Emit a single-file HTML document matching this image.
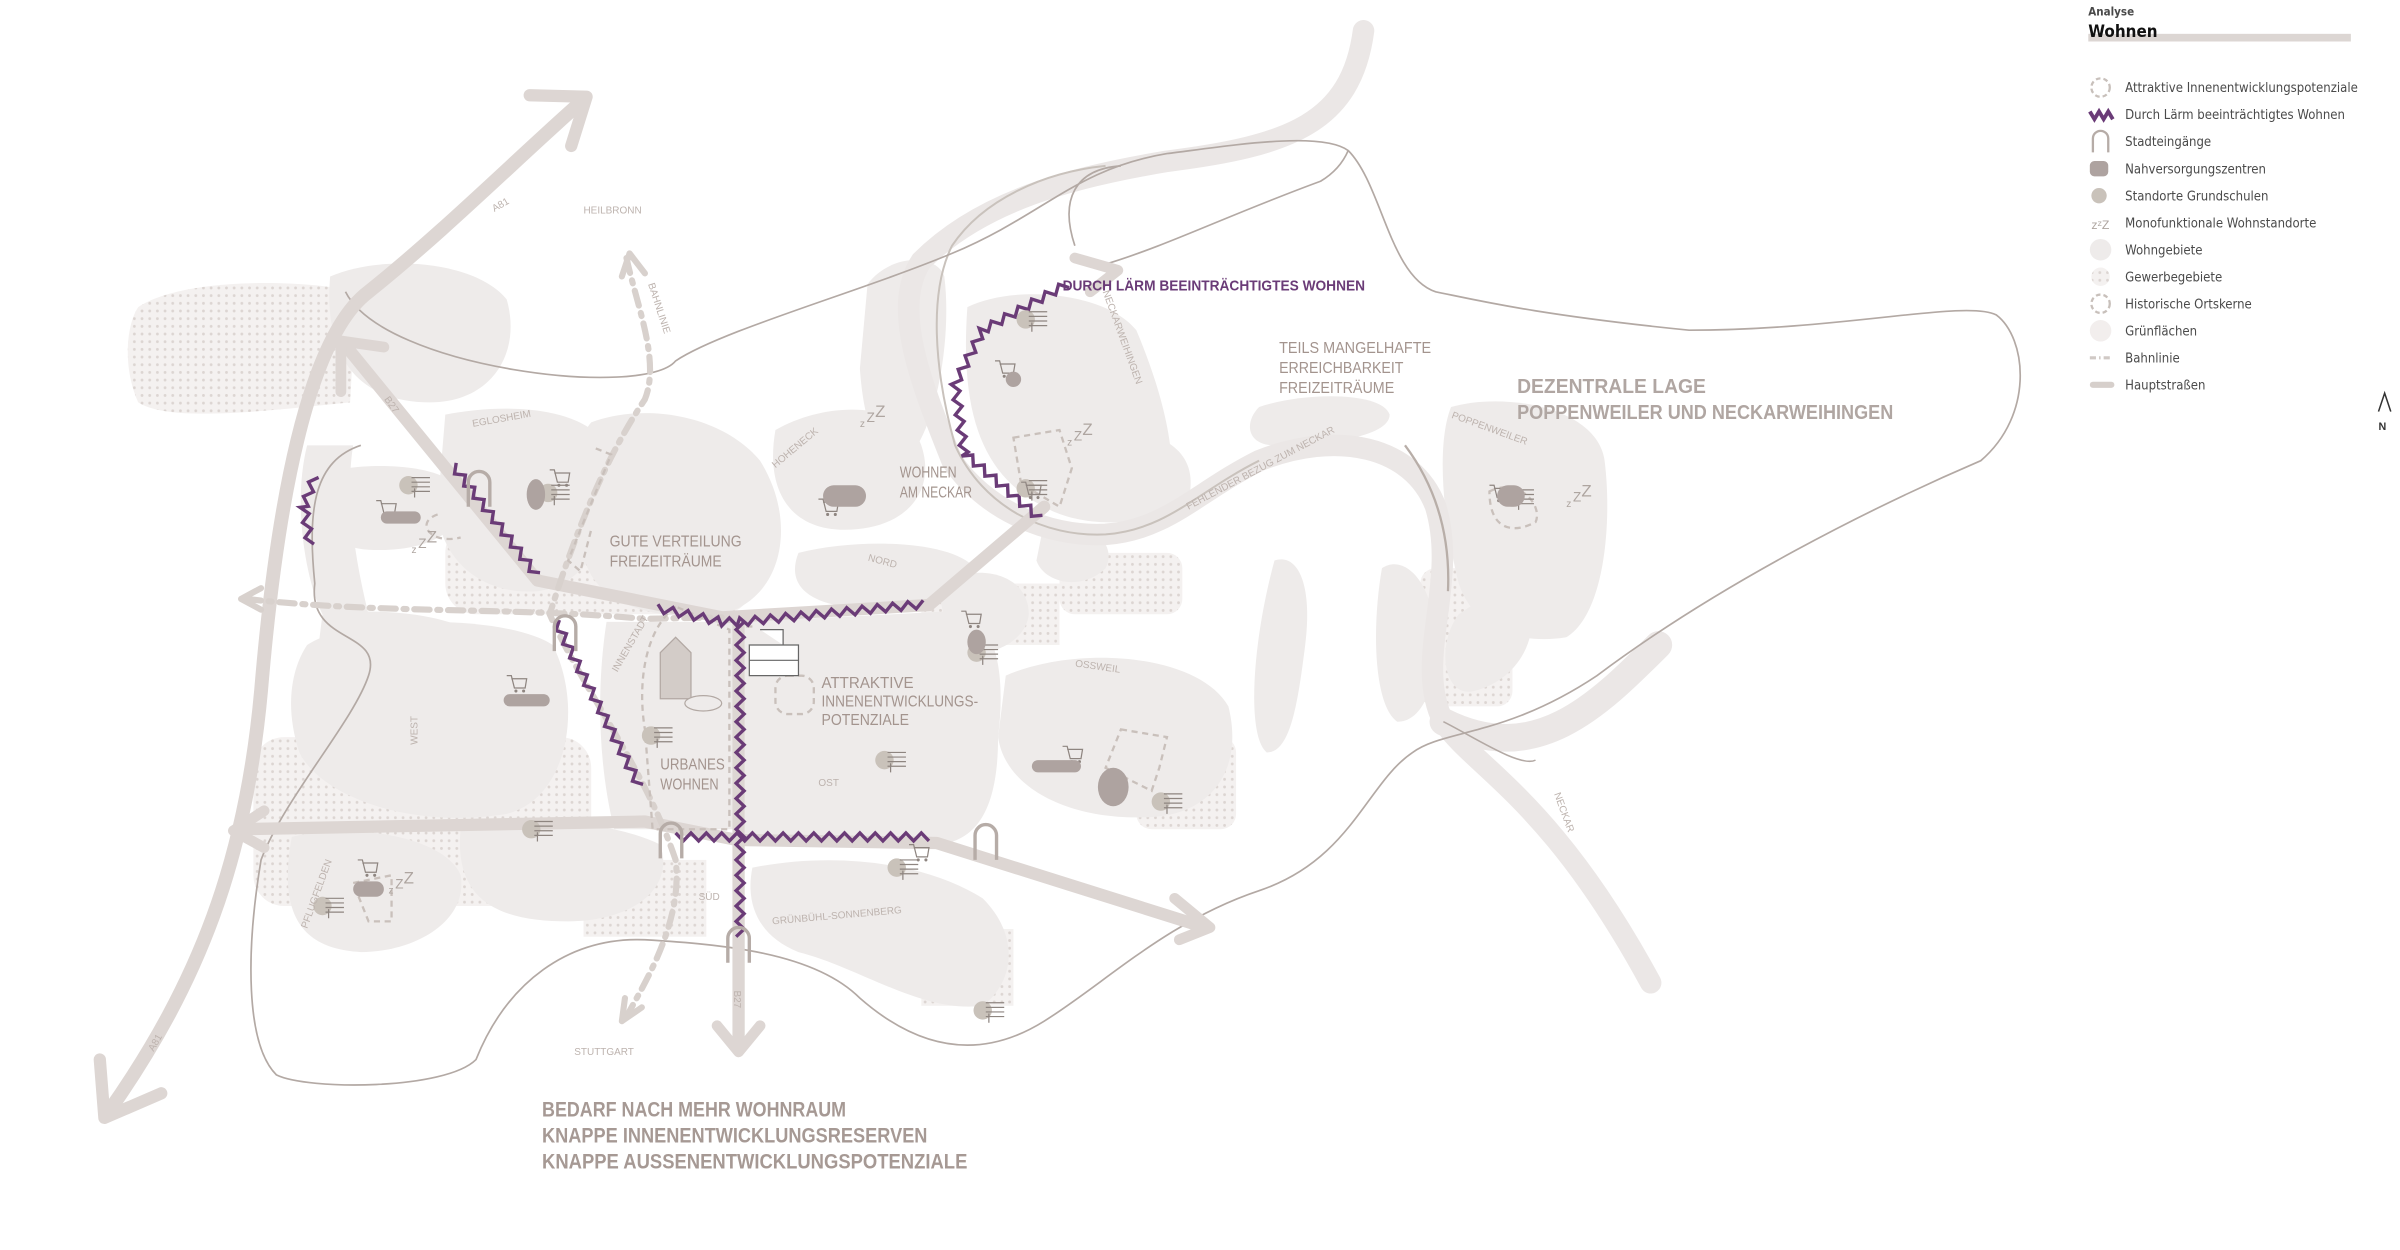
<!DOCTYPE html>
<html><head><meta charset="utf-8"><style>
html,body{margin:0;padding:0;background:#fff;}
svg{display:block}
text{font-family:"Liberation Sans",sans-serif;}
.lb{fill:#a3948e;font-size:10px}
.sm{fill:#bdb3ae;font-size:6.5px}
.lg{fill:#4a4a4a;font-size:8.5px;font-family:"DejaVu Sans Condensed","Liberation Sans",sans-serif}
</style></head><body>
<svg id="s" width="2400" height="1250" viewBox="0 0 1563 814" xmlns="http://www.w3.org/2000/svg">
<defs>
<pattern id="dots" width="5" height="5" patternUnits="userSpaceOnUse"><rect width="5" height="5" fill="#f4f1f0"/><circle cx="2.5" cy="2.5" r="0.9" fill="#dcd5d2"/></pattern>
</defs>
<g fill="url(#dots)">
<path d="M90,200 C120,180 200,182 232,190 L228,262 C170,268 110,275 90,262 C80,240 82,212 90,200Z"/>
<rect x="165" y="480" width="220" height="110" rx="20"/>
<rect x="290" y="340" width="200" height="60" rx="20"/>
<rect x="600" y="380" width="90" height="40"/>
<rect x="690" y="360" width="80" height="40" rx="10"/>
<rect x="740" y="480" width="65" height="60" rx="10"/>
<rect x="925" y="370" width="60" height="90" rx="10"/>
<rect x="600" y="605" width="60" height="50"/>
<rect x="380" y="560" width="80" height="50"/>
<rect x="445" y="470" width="30" height="70"/>
</g>
<g fill="#eeebea">
<path d="M215,180 C250,165 310,170 330,195 C340,230 320,262 280,262 C240,262 210,240 215,180Z"/>
<path d="M205,310 C230,300 290,300 300,320 C305,345 280,360 240,358 C210,356 200,335 205,310Z"/>
<path d="M290,270 C330,262 380,265 395,290 C405,330 390,380 350,385 C310,388 285,360 285,330Z"/>
<path d="M385,275 C420,262 470,270 495,300 C520,340 510,390 470,400 C430,405 385,395 380,360 C375,320 372,290 385,275Z"/>
<path d="M505,280 C540,260 590,262 600,290 C610,320 590,345 550,345 C515,345 498,320 505,280Z"/>
<path d="M565,185 C580,165 610,165 615,180 C620,220 610,280 590,300 C570,305 562,270 560,240Z"/>
<path d="M630,200 C660,185 720,190 740,215 C755,250 770,300 760,330 C740,345 700,342 680,330 C640,310 625,270 630,200Z"/>
<path d="M700,280 C740,275 780,285 775,320 C770,345 720,345 700,330Z"/>
<path d="M520,360 C560,350 620,352 635,370 C640,392 600,398 560,396 C525,394 512,380 520,360Z"/>
<path d="M200,420 C230,400 330,400 360,420 C380,460 370,520 330,530 C270,540 210,520 195,490 C185,460 190,435 200,420Z"/>
<path d="M395,405 L480,405 L482,540 L400,540 C390,500 388,450 395,405Z"/>
<path d="M485,405 L620,398 C650,400 655,440 650,480 C650,520 640,548 610,550 L485,550Z"/>
<path d="M610,380 C640,365 670,375 670,400 C668,420 640,430 620,425Z"/>
<path d="M655,440 C700,420 780,425 800,460 C810,500 790,530 750,532 C700,535 655,515 650,480Z"/>
<path d="M190,545 C230,535 290,545 300,570 C305,600 270,620 235,620 C200,618 180,600 190,545Z"/>
<path d="M300,540 C340,530 400,535 430,550 C440,580 410,600 370,600 C330,600 295,590 300,540Z"/>
<path d="M490,565 C540,555 600,560 640,585 C665,610 660,640 640,655 C600,660 560,630 520,620 C495,610 485,590 490,565Z"/>
<path d="M945,265 C980,255 1040,265 1045,300 C1050,340 1045,400 1020,415 C990,420 960,410 950,380 C940,340 935,290 945,265Z"/>
<path d="M200,290 C190,330 200,380 210,400 L240,400 C230,360 225,320 230,290Z"/>
<path d="M900,370 C915,360 935,380 935,420 C935,450 925,470 910,470 C895,460 893,410 900,370Z"/>
<path d="M830,365 C845,360 855,380 850,420 C845,460 840,490 825,490 C812,480 815,420 830,365Z"/>
<path d="M820,265 C850,255 900,255 905,270 C905,285 860,290 830,290 C812,290 810,275 820,265Z"/>
<path d="M680,340 C700,335 730,350 720,370 C705,385 680,380 675,365Z"/>
<path d="M980,380 C1010,390 1000,440 960,450 C940,455 935,420 950,400Z"/>
<path d="M210,400 C250,395 300,400 320,420 C290,430 240,440 205,440Z"/>
</g>
<g fill="none" stroke="#ebe7e6" stroke-linecap="round">
<path d="M888,20 C880,80 840,95 760,105 C700,115 640,130 600,170 C580,200 600,250 620,300 C640,330 680,350 720,348 C760,345 780,320 820,300 C870,280 920,290 935,330 C950,380 920,430 940,470 C960,500 1010,520 1075,640" stroke-width="14"/>
<path d="M940,470 C1000,500 1040,460 1080,420" stroke-width="18"/>
</g>
<g fill="none" stroke="#c9c2bc" stroke-width="1.3">
<path d="M720,108 C680,112 640,130 620,160 C605,190 608,240 622,290 C640,330 680,350 720,348 C760,345 780,320 820,300"/>
</g>
<path d="M915,290 C930,310 945,340 943,385" fill="none" stroke="#b8aea8" stroke-width="1.5"/>
<path d="M225,190 C250,240 420,260 440,235 C470,215 560,190 620,165 C680,140 700,110 760,100 C800,95 860,85 878,98 C900,120 905,180 935,190 C960,195 1000,205 1100,215 C1200,215 1280,195 1300,205 C1320,220 1325,270 1290,300 C1220,330 1120,380 1040,440 C980,480 940,475 920,490 C890,510 880,560 820,580 C760,600 720,640 680,665 C640,690 600,685 560,650 C530,620 470,615 420,612 C370,610 330,640 310,690 C290,710 200,710 180,700 C160,680 160,620 170,560 C185,520 230,470 240,440 C250,410 200,420 205,380 C200,330 205,300 235,290" fill="none" stroke="#b3a9a4" stroke-width="1.1"/>
<path d="M700,160 C690,130 700,110 730,108" fill="none" stroke="#b3a9a4" stroke-width="1.1"/>
<path d="M720,172 C760,160 800,140 860,118 C870,112 875,105 878,98" fill="none" stroke="#b3a9a4" stroke-width="1.1"/>
<path d="M940,470 C960,480 990,500 1000,495" fill="none" stroke="#b3a9a4" stroke-width="1"/>
<g fill="none" stroke="#ddd6d3" stroke-linecap="round" stroke-linejoin="round">
<path d="M70,725 C130,640 160,560 170,450 C180,330 200,220 240,190 C290,150 340,100 380,65" stroke-width="9"/>
<path d="M345,62 L382,63 L372,95" stroke-width="8"/>
<path d="M65,690 L68,728 L105,712" stroke-width="8"/>
<path d="M225,225 L350,378 L470,402 L605,394 L680,330" stroke-width="8"/>
<path d="M222,255 L222,222 L250,226" stroke-width="7"/>
<path d="M155,540 L420,535 L480,547 L610,549 L785,604" stroke-width="8"/>
<path d="M172,528 L152,541 L172,552" stroke-width="7"/>
<path d="M765,585 L788,604 L768,612" stroke-width="7"/>
<path d="M481,405 L481,683" stroke-width="8"/>
<path d="M467,668 L481,685 L495,668" stroke-width="7"/>
<path d="M700,168 L728,176 L710,190" stroke-width="7"/>
</g>
<g fill="none" stroke="#d8d1cd" stroke-linecap="round" stroke-width="4" stroke-dasharray="10 5 2 5">
<path d="M408,168 C415,200 430,235 420,260 C400,290 380,330 358,400 C380,450 420,500 440,560 C445,600 420,640 408,662"/>
<path d="M160,390 C250,400 330,395 420,403 L470,402"/>
<path d="M410,165 L405,180 M410,165 L420,178" stroke-dasharray="0"/>
<path d="M157,390 L170,383 M157,390 L170,397" stroke-dasharray="0"/>
<path d="M405,665 L407,650 M405,665 L418,656" stroke-dasharray="0"/>
</g>
<g fill="none" stroke="#c9c0bb" stroke-width="1.5" stroke-dasharray="4 3">
<path d="M388,292 L398,296 L380,340 L370,365 L378,372 L385,345"/>
<path d="M490,408 L480,408 M440,395 C420,410 415,445 420,475 L425,540 L475,540 L475,410 Z"/>
<rect x="505" y="440" width="25" height="25" rx="8"/>
<path d="M660,285 L690,280 L698,305 L690,330 L665,315 Z"/>
<path d="M730,475 L760,480 L755,500 L750,515 L720,500 Z"/>
<path d="M970,320 C990,310 1005,330 1000,340 C985,348 970,345 970,320Z"/>
<path d="M285,335 C270,340 280,355 300,350"/>
<path d="M230,575 L255,570 L255,600 L240,600 Z"/>
</g>
<g id="zz" fill="none" stroke="#6a3b77" stroke-width="2.2" stroke-linejoin="miter"></g>
<g fill="none" stroke="#b6aca7" stroke-width="5" stroke-linecap="butt"><g id="gates"></g></g>
<g id="icons"></g>
<g class="lb">
<text x="397" y="356" textLength="86" lengthAdjust="spacingAndGlyphs">GUTE VERTEILUNG</text><text x="397" y="369" textLength="73" lengthAdjust="spacingAndGlyphs">FREIZEITRÄUME</text>
<text x="586" y="311" textLength="37" lengthAdjust="spacingAndGlyphs">WOHNEN</text><text x="586" y="324" textLength="47" lengthAdjust="spacingAndGlyphs">AM NECKAR</text>
<text x="535" y="448" textLength="60" lengthAdjust="spacingAndGlyphs">ATTRAKTIVE</text><text x="535" y="460" textLength="102" lengthAdjust="spacingAndGlyphs">INNENENTWICKLUNGS-</text><text x="535" y="472" textLength="57" lengthAdjust="spacingAndGlyphs">POTENZIALE</text>
<text x="430" y="501" textLength="42" lengthAdjust="spacingAndGlyphs">URBANES</text><text x="430" y="514" textLength="38" lengthAdjust="spacingAndGlyphs">WOHNEN</text>
<text x="833" y="230" textLength="99" lengthAdjust="spacingAndGlyphs">TEILS MANGELHAFTE</text><text x="833" y="243" textLength="81" lengthAdjust="spacingAndGlyphs">ERREICHBARKEIT</text><text x="833" y="256" textLength="75" lengthAdjust="spacingAndGlyphs">FREIZEITRÄUME</text>
<text x="692" y="189" style="fill:#6a3b77;font-size:9.5px;font-weight:bold" textLength="197" lengthAdjust="spacingAndGlyphs">DURCH LÄRM BEEINTRÄCHTIGTES WOHNEN</text>
<text x="988" y="256" style="font-size:13px;fill:#b0a6a2;font-weight:bold" textLength="123" lengthAdjust="spacingAndGlyphs">DEZENTRALE LAGE</text>
<text x="988" y="273" style="font-size:13px;fill:#b0a6a2;font-weight:bold" textLength="245" lengthAdjust="spacingAndGlyphs">POPPENWEILER UND NECKARWEIHINGEN</text>
<text x="353" y="727" style="font-size:14px;fill:#a69994;font-weight:bold" textLength="198" lengthAdjust="spacingAndGlyphs">BEDARF NACH MEHR WOHNRAUM</text>
<text x="353" y="744" style="font-size:14px;fill:#a69994;font-weight:bold" textLength="251" lengthAdjust="spacingAndGlyphs">KNAPPE INNENENTWICKLUNGSRESERVEN</text>
<text x="353" y="761" style="font-size:14px;fill:#a69994;font-weight:bold" textLength="277" lengthAdjust="spacingAndGlyphs">KNAPPE AUSSENENTWICKLUNGSPOTENZIALE</text>
</g>
<g class="sm">
<text x="380" y="139">HEILBRONN</text><text x="374" y="687">STUTTGART</text>
<text x="308" y="278" transform="rotate(-10 308 278)">EGLOSHEIM</text>
<text x="505" y="305" transform="rotate(-40 505 305)">HOHENECK</text>
<text x="565" y="365" transform="rotate(15 565 365)">NORD</text>
<text x="700" y="434" transform="rotate(8 700 434)">OSSWEIL</text>
<text x="533" y="512">OST</text><text x="455" y="586">SÜD</text>
<text x="503" y="602" transform="rotate(-5 503 602)">GRÜNBÜHL-SONNENBERG</text>
<text x="272" y="485" transform="rotate(-90 272 485)">WEST</text>
<text x="200" y="605" transform="rotate(-70 200 605)">PFLUGFELDEN</text>
<text x="402" y="438" transform="rotate(-60 402 438)">INNENSTADT</text>
<text x="774" y="332" transform="rotate(-28 774 332)">FEHLENDER BEZUG ZUM NECKAR</text>
<text x="718" y="190" transform="rotate(70 718 190)">NECKARWEIHINGEN</text>
<text x="945" y="272" transform="rotate(20 945 272)">POPPENWEILER</text>
<text x="1012" y="517" transform="rotate(70 1012 517)">NECKAR</text>
<text x="322" y="138" transform="rotate(-30 322 138)">A81</text>
<text x="100" y="685" transform="rotate(-60 100 685)">A81</text>
<text x="250" y="260" transform="rotate(55 250 260)">B27</text>
<text x="478" y="645" transform="rotate(90 478 645)">B27</text>
<text x="422" y="185" transform="rotate(72 422 185)">BAHNLINIE</text>
</g>
<rect x="1360" y="22" width="171" height="5" fill="#dcd6d3"/>
<text x="1360" y="10" class="lg" style="font-size:7.5px;font-weight:bold">Analyse</text>
<text x="1360" y="24" class="lg" style="font-size:11px;font-weight:bold;fill:#111">Wohnen</text>
<g id="leg"></g>
<path d="M1549,268 L1553,256 L1557,268" fill="none" stroke="#333" stroke-width="1"/>
<text x="1549" y="280" style="font-size:7px;font-weight:bold;fill:#333">N</text>
</svg>
<script>
var NS="http://www.w3.org/2000/svg";
function el(p,t,a){var e=document.createElementNS(NS,t);for(var k in a)e.setAttribute(k,a[k]);p.appendChild(e);return e;}
function zig(pts,amp,step){var d="",first=true,k=0;for(var i=0;i<pts.length-1;i++){var a=pts[i],b=pts[i+1],dx=b[0]-a[0],dy=b[1]-a[1],L=Math.hypot(dx,dy),ux=dx/L,uy=dy/L,nx=-uy,ny=ux;for(var s=0;s<L;s+=step){var sg=(k++%2?1:-1)*amp;var x=a[0]+ux*s+nx*sg,y=a[1]+uy*s+ny*sg;d+=(first?"M":"L")+x.toFixed(1)+","+y.toFixed(1);first=false;}}return d;}
var zz=document.getElementById("zz");
var lines=[[[205,310],[198,330],[202,355]],[[295,303],[350,375]],[[362,405],[418,515]],[[428,396],[470,405],[482,405],[606,393]],[[482,405],[482,612]],[[440,545],[610,545]],[[695,185],[640,215],[622,250],[628,295],[680,340]]];
lines.forEach(function(l){el(zz,"path",{d:zig(l,2.6,5)});});
var g=document.getElementById("gates");
[[312,318],[368,412],[437,547],[642,548],[481,615]].forEach(function(p){el(g,"path",{d:"M"+(p[0]-7)+","+(p[1]+12)+" L"+(p[0]-7)+","+(p[1]-4)+" A7,7 0 0 1 "+(p[0]+7)+","+(p[1]-4)+" L"+(p[0]+7)+","+(p[1]+12),stroke:"#b6aca7","stroke-width":2.2});});
var ic=document.getElementById("icons");
function school(x,y){el(ic,"circle",{cx:x,cy:y,r:6,fill:"#c9c2ba"});var p="";for(var i=0;i<4;i++){p+="M"+(x+2)+","+(y-5+i*3)+" L"+(x+14)+","+(y-5+i*3);}p+="M"+(x+4)+","+(y+2)+" L"+(x+4)+","+(y+8);el(ic,"path",{d:p,stroke:"#8e8580",fill:"none","stroke-width":0.8});}
function cart(x,y){el(ic,"path",{d:"M"+x+","+y+" L"+(x+3)+","+y+" L"+(x+5)+","+(y+8)+" L"+(x+12)+","+(y+8)+" L"+(x+13)+","+(y+2)+" L"+(x+3)+","+(y+2),stroke:"#8e8580",fill:"none","stroke-width":0.8});el(ic,"circle",{cx:x+6,cy:y+10,r:1,fill:"#8e8580"});el(ic,"circle",{cx:x+11,cy:y+10,r:1,fill:"#8e8580"});}
function blob(x,y,w,h){el(ic,"rect",{x:x,y:y,width:w,height:h,rx:h/2,fill:"#aea3a0"});}
[[266,316],[357,321],[424,479],[576,495],[584,565],[636,425],[668,208],[668,318],[346,540],[210,590],[640,658],[756,522],[985,324]].forEach(function(p){school(p[0],p[1]);});
[[245,326],[358,306],[330,440],[533,325],[648,235],[665,314],[233,560],[626,398],[692,486],[592,550],[970,316]].forEach(function(p){cart(p[0],p[1]);});
blob(248,333,26,8);blob(343,312,12,20);blob(328,452,30,8);blob(536,316,28,14);blob(655,242,10,10);blob(230,574,20,10);blob(630,410,12,16);blob(672,495,32,8);blob(715,500,20,25);blob(975,316,18,14);
function zzz(x,y,s){el(ic,"text",{x:x,y:y,fill:"#aea5a0","font-size":6*s}).textContent="z";el(ic,"text",{x:x+4*s,y:y-3*s,fill:"#aea5a0","font-size":8*s}).textContent="Z";el(ic,"text",{x:x+9*s,y:y-6*s,fill:"#aea5a0","font-size":10*s}).textContent="Z";}
zzz(268,360,1.1);zzz(560,278,1.1);zzz(695,290,1.1);zzz(253,582,1.1);zzz(1020,330,1.1);
el(ic,"path",{d:"M430,455 L430,425 L440,415 L450,425 L450,455 Z",fill:"#d3ccc8",stroke:"#b2a8a3","stroke-width":0.8});
el(ic,"ellipse",{cx:458,cy:458,rx:12,ry:5,fill:"#eeebea",stroke:"#b2a8a3","stroke-width":0.8});
el(ic,"path",{d:"M488,420 L520,420 L520,440 L488,440 Z M495,410 L510,410 L510,420 M488,430 L520,430",fill:"#fff",stroke:"#666","stroke-width":0.8});
var lg=document.getElementById("leg");
var items=["Attraktive Innenentwicklungspotenziale","Durch Lärm beeinträchtigtes  Wohnen","Stadteingänge","Nahversorgungszentren","Standorte Grundschulen","Monofunktionale Wohnstandorte","Wohngebiete","Gewerbegebiete","Historische Ortskerne","Grünflächen","Bahnlinie","Hauptstraßen"];
items.forEach(function(t,i){var y=57+i*17.6;var tx=el(lg,"text",{x:1384,y:y+3,"class":"lg"});tx.textContent=t;var cx=1368,cy=y;
if(i==0||i==8)el(lg,"circle",{cx:cx,cy:cy,r:6,fill:"none",stroke:"#c8c0bb","stroke-width":1.5,"stroke-dasharray":"3 2"});
else if(i==1)el(lg,"path",{d:"M1361,"+(cy-2)+" L1364,"+(cy+3)+" L1367,"+(cy-2)+" L1370,"+(cy+3)+" L1373,"+(cy-2)+" L1376,"+(cy+3),fill:"none",stroke:"#6a3b77","stroke-width":2.5});
else if(i==2)el(lg,"path",{d:"M1363,"+(cy+7)+" L1363,"+(cy-2)+" A5,5 0 0 1 1373,"+(cy-2)+" L1373,"+(cy+7),fill:"none",stroke:"#b6aca7","stroke-width":1.5});
else if(i==3)el(lg,"rect",{x:1361,y:cy-5,width:12,height:10,rx:3,fill:"#aea3a0"});
else if(i==4)el(lg,"circle",{cx:1367,cy:cy,r:5,fill:"#c9c2ba"});
else if(i==5){var z=el(lg,"text",{x:1362,y:cy+4,fill:"#aea5a0","font-size":8});z.textContent="zᶻZ";}
else if(i==6||i==9)el(lg,"circle",{cx:1368,cy:cy,r:7,fill:i==6?"#eeebea":"#f2eeed"});
else if(i==7)el(lg,"circle",{cx:1368,cy:cy,r:6,fill:"url(#dots)"});
else if(i==10)el(lg,"path",{d:"M1361,"+cy+" L1376,"+cy,stroke:"#d0c9c5","stroke-width":2,"stroke-dasharray":"4 2 1 2"});
else if(i==11)el(lg,"rect",{x:1361,y:cy-2,width:16,height:4,rx:2,fill:"#d6cfcb"});
});
</script>
</body></html>
